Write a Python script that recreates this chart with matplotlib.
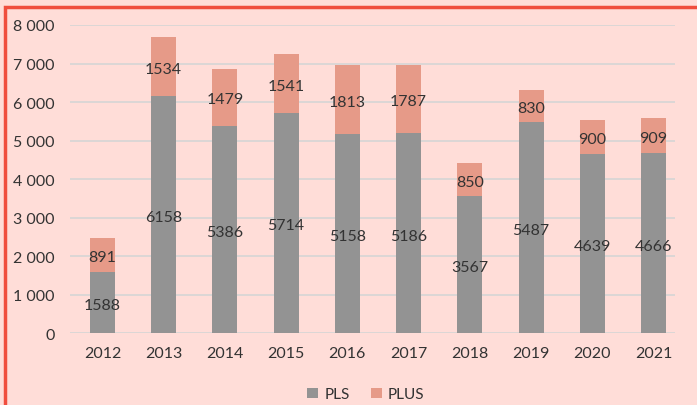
import matplotlib.pyplot as plt
from matplotlib.patches import Rectangle

years = ["2012", "2013", "2014", "2015", "2016", "2017", "2018", "2019", "2020", "2021"]
pls = [1588, 6158, 5386, 5714, 5158, 5186, 3567, 5487, 4639, 4666]
plus = [891, 1534, 1479, 1541, 1813, 1787, 850, 830, 900, 909]

bg = "#FFDDD8"
c_pls = "#939393"
c_plus = "#E69A88"
txt = "#333333"

plt.rcParams["font.family"] = ["Lato", "DejaVu Sans"]

fig = plt.figure(figsize=(6.97, 4.06), dpi=100, facecolor=bg)
ax = fig.add_axes([0.1004, 0.177, 0.868, 0.759], facecolor=bg)

x = range(len(years))
ax.bar(x, pls, width=0.41, color=c_pls, label="PLS", zorder=2)
ax.bar(x, plus, width=0.41, bottom=pls, color=c_plus, label="PLUS", zorder=2)

# data labels in the middle of each segment
for i in x:
    ax.text(i, pls[i] / 2 - 60, str(pls[i]), ha="center", va="center", fontsize=11.5, color=txt, zorder=3)
    ax.text(i, pls[i] + plus[i] / 2 - 60, str(plus[i]), ha="center", va="center", fontsize=11.5, color=txt, zorder=3)

ax.set_ylim(0, 8000)
ax.set_xlim(-0.53, 9.35)
ax.set_yticks(range(0, 8001, 1000))
ax.set_yticklabels([f"{v:,}".replace(",", " ") for v in range(0, 8001, 1000)])
ax.set_xticks(list(x))
ax.set_xticklabels(years)
ax.tick_params(axis="both", length=0, labelsize=11.5, colors=txt)
ax.tick_params(axis="y", pad=11)
ax.tick_params(axis="x", pad=9)
ax.grid(axis="y", color="#D5D5D5", linewidth=1.2, zorder=0)
for s in ax.spines.values():
    s.set_visible(False)

leg = fig.legend(loc="lower center", bbox_to_anchor=(0.525, -0.025), ncol=2, frameon=False,
                 fontsize=11, handlelength=0.7, handleheight=0.7, handletextpad=0.4, columnspacing=1.4)
for t in leg.get_texts():
    t.set_color(txt)

fig.patches.append(Rectangle((0.0072, -0.05), 1.1, 1.03, transform=fig.transFigure,
                             fill=False, edgecolor="#F04E3E", linewidth=2.5))

fig.savefig("out.png", dpi=100, facecolor=bg)
